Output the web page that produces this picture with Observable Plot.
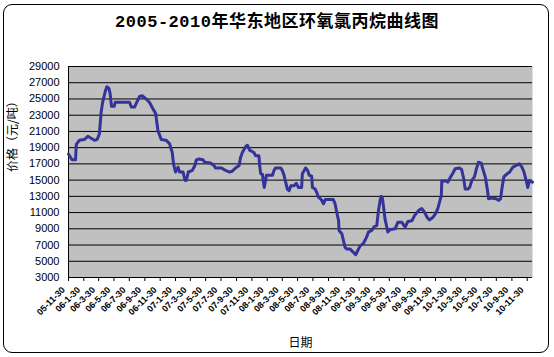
<!DOCTYPE html>
<html><head><meta charset="utf-8">
<script src="https://cdn.jsdelivr.net/npm/d3@7"></script>
<script src="https://cdn.jsdelivr.net/npm/@observablehq/plot@0.6"></script>
<style>
body{margin:0;background:#fff;}
#wrap{position:relative;width:554px;height:357px;overflow:hidden;background:#fff;}
#frame{position:absolute;left:3px;top:4px;width:546px;height:349px;border:1px solid #000;border-radius:9px;box-sizing:border-box;pointer-events:none;}
#title{height:56px;box-sizing:border-box;padding-top:13px;text-align:center;font-weight:bold;font-size:17px;letter-spacing:0.5px;line-height:19px;font-family:"Liberation Mono","Noto Sans CJK SC",monospace;color:#000;}
#chart svg{display:block;}
</style></head>
<body>
<div id="wrap">
<div id="title">2005-2010年华东地区环氧氯丙烷曲线图</div>
<div id="chart"></div>
<div id="frame"></div>
</div>
<script>
const tickLabels = ["05-11-30","06-1-30","06-3-30","06-5-30","06-7-30","06-9-30","06-11-30",
"07-1-30","07-3-30","07-5-30","07-7-30","07-9-30","07-11-30",
"08-1-30","08-3-30","08-5-30","08-7-30","08-9-30","08-11-30",
"09-1-30","09-3-30","09-5-30","09-7-30","09-9-30","09-11-30",
"10-1-30","10-3-30","10-5-30","10-7-30","10-9-30","10-11-30"];
const yTicks = [3000,5000,7000,9000,11000,13000,15000,17000,19000,21000,23000,25000,27000,29000];
const yLabel = "价格（元/吨）";
const xLabel = "日期";
const dates = ["2005-11-30","2005-12-14","2005-12-28","2005-12-31","2006-01-12","2006-02-01","2006-02-15","2006-03-13","2006-03-24","2006-04-02",
"2006-04-09","2006-04-15","2006-04-26","2006-05-02","2006-05-10","2006-05-15","2006-05-20","2006-05-31","2006-06-04","2006-07-31",
"2006-08-07","2006-08-20","2006-08-29","2006-09-09","2006-09-19","2006-10-05","2006-10-18","2006-11-01","2006-11-12","2006-11-21",
"2006-12-04","2006-12-24","2007-01-06","2007-01-17","2007-01-22","2007-01-30","2007-02-09","2007-02-15","2007-03-01","2007-03-07",
"2007-03-10","2007-03-14","2007-03-22","2007-04-07","2007-04-17","2007-04-23","2007-05-03","2007-05-19","2007-05-27","2007-06-18",
"2007-07-02","2007-07-08","2007-08-01","2007-08-11","2007-08-31","2007-09-13","2007-09-26","2007-10-10","2007-10-16","2007-10-23",
"2007-11-05","2007-11-12","2007-11-21","2007-12-08","2007-12-15","2007-12-28","2007-12-31","2008-01-04","2008-01-11","2008-01-18",
"2008-01-22","2008-01-27","2008-02-20","2008-02-26","2008-03-03","2008-03-24","2008-03-30","2008-04-06","2008-04-13","2008-04-19",
"2008-04-26","2008-05-03","2008-05-16","2008-05-25","2008-06-02","2008-06-15","2008-06-18","2008-06-22","2008-07-01","2008-07-09",
"2008-07-15","2008-07-25","2008-07-28","2008-08-08","2008-08-14","2008-08-21","2008-09-01","2008-09-10","2008-09-17","2008-10-19",
"2008-10-26","2008-11-02","2008-11-09","2008-11-11","2008-11-22","2008-11-28","2008-12-05","2008-12-12","2008-12-25","2009-01-07",
"2009-01-16","2009-01-24","2009-02-03","2009-02-16","2009-03-01","2009-03-08","2009-03-21","2009-04-01","2009-04-10","2009-04-17",
"2009-04-24","2009-04-28","2009-05-03","2009-05-07","2009-05-13","2009-05-20","2009-05-24","2009-06-02","2009-06-22","2009-07-03",
"2009-07-19","2009-08-01","2009-08-12","2009-08-28","2009-09-07","2009-09-18","2009-09-27","2009-10-06","2009-10-17","2009-10-28",
"2009-11-06","2009-11-19","2009-11-29","2009-12-09","2009-12-16","2009-12-23","2009-12-25","2010-01-12","2010-01-18","2010-01-29",
"2010-02-07","2010-02-16","2010-03-05","2010-03-14","2010-03-22","2010-03-28","2010-04-08","2010-04-15","2010-04-24","2010-05-04",
"2010-05-11","2010-05-20","2010-05-31","2010-06-06","2010-06-16","2010-06-24","2010-06-29","2010-07-10","2010-07-30","2010-08-08",
"2010-08-16","2010-08-21","2010-08-29","2010-09-08","2010-09-21","2010-10-04","2010-10-17","2010-10-30","2010-11-09","2010-11-17",
"2010-11-26","2010-12-02","2010-12-09","2010-12-21"];
const prices = [18200,17500,17500,19400,19900,20000,20400,19900,20000,20700,
23400,24600,26000,26500,26300,25600,24100,24100,24600,24600,
24000,24000,24600,25300,25400,25000,24600,23800,23200,21100,
20000,19900,19500,18400,17000,16000,16600,16000,16000,15200,
14950,14950,16000,16200,16800,17500,17600,17500,17200,17100,
16800,16500,16500,16300,16000,16100,16500,16800,17800,18400,
19100,19300,18700,18400,18000,18000,16800,15800,15700,14100,
14700,15600,15600,16200,16500,16500,16200,15600,14700,13900,
13700,14300,14300,14600,14100,14100,15800,16000,16500,16200,
15600,15500,14100,13900,13500,12900,12600,12100,12600,12600,
12100,11000,10000,8800,8400,7600,6700,6500,6500,6100,
5800,6300,6900,7200,8000,8600,8800,9300,9400,11300,
12600,13000,12700,11700,10200,9200,8600,8900,9000,9800,
9800,9200,9900,10000,10600,11050,11350,11500,11050,10400,
10100,10400,10800,11500,12300,13100,14900,14900,14750,15400,
15850,16400,16500,16300,15200,13900,13900,14100,15000,15400,
16300,17200,17100,16400,15400,13900,12700,12800,12700,12500,
12700,13900,15400,15700,16000,16600,16800,17000,16600,16000,
14950,14100,14950,14750];

const parse = d3.utcParse("%Y-%m-%d");
const data = dates.map((d, i) => ({date: parse(d), price: prices[i]}));
const tickDates = tickLabels.map(s => { const [y, m, d] = s.split("-").map(Number); return new Date(Date.UTC(2000 + y, m - 1, d)); });
const labelOf = new Map(tickDates.map((d, i) => [+d, tickLabels[i]]));
const x0 = parse(dates[0]), x1 = parse(dates[dates.length - 1]);

const chart = Plot.plot({
  width: 554, height: 301,
  marginLeft: 68, marginRight: 22, marginTop: 10, marginBottom: 80,
  style: {fontFamily: "Liberation Sans, Arial, sans-serif", fontSize: "11px", color: "#000", background: "transparent", overflow: "visible"},
  x: {type: "utc", domain: [x0, x1]},
  y: {domain: [3000, 29000]},
  marks: [
    Plot.frame({fill: "#c0c0c0", stroke: null}),
    Plot.ruleY(yTicks, {stroke: "#000", strokeWidth: 1}),
    Plot.ruleX([x0], {stroke: "#000", strokeWidth: 1}),
    Plot.axisY(yTicks, {tickSize: 0, tickPadding: 9, fontSize: 11, label: null, tickFormat: d => String(d)}),
    Plot.axisX(tickDates, {tickSize: 4, tickFormat: () => "", label: null, stroke: "#000"}),
    Plot.axisX(tickDates, {tickSize: 0, tickPadding: 6, tickRotate: -45, tickFormat: d => labelOf.get(+d), fontSize: 9, fontWeight: "bold", label: null, dx: -5, dy: 5}),
    Plot.line(data, {x: "date", y: "price", stroke: "#333399", strokeWidth: 3, strokeLinejoin: "round"}),
    Plot.text([yLabel], {frameAnchor: "left", dx: -55, rotate: -90, text: d => d, fontSize: 12, fontFamily: "Noto Sans CJK SC", fill: "#000"}),
    Plot.text([xLabel], {frameAnchor: "bottom", dy: 69, text: d => d, fontSize: 12, fontFamily: "Noto Sans CJK SC", fill: "#000"})
  ]
});
document.getElementById("chart").appendChild(chart);
</script>
</body></html>
